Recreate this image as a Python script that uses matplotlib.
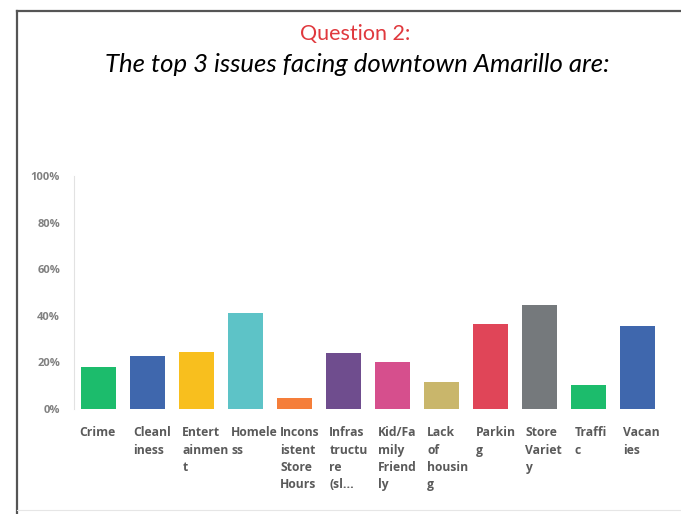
import matplotlib.pyplot as plt
from matplotlib.lines import Line2D
import matplotlib.transforms as mtransforms

# survey answers, share of respondents (%)
categories = ["Crime\n", "Cleanl\niness", "Entert\nainmen\nt", "Homele\nss",
              "Incons\nistent\nStore\nHours", "Infras\ntructu\nre\n(sl...",
              "Kid/Fa\nmily\nFriend\nly", "Lack\nof\nhousin\ng", "Parkin\ng",
              "Store\nVariet\ny", "Traffi\nc", "Vacan\nies"]
values = [18.2, 22.7, 24.6, 41.1, 4.8, 23.9, 20.2, 11.7, 36.6, 44.6, 10.2, 35.8]
colors = ["#1cbc6c", "#3f67ad", "#f8bf1e", "#5dc3c7", "#f57e3a", "#6f4d8e",
          "#d64f8d", "#c9b66b", "#e04558", "#75797c", "#1cbc6c", "#3f67ad"]
yticks = [0, 20, 40, 60, 80, 100]
ytick_labels = ["0%", "20%", "40%", "60%", "80%", "100%"]

fig = plt.figure(figsize=(6.81, 5.14), dpi=100)
fig.patch.set_facecolor("white")

# slide frame (top and left edges only)
fig.add_artist(Line2D([17/681, 1.0], [1 - 11/514, 1 - 11/514], color="#555555", lw=1.6))
fig.add_artist(Line2D([17/681, 17/681], [0, 1 - 11/514], color="#555555", lw=1.6))
fig.add_artist(Line2D([17/681, 1.0], [1 - 510/514, 1 - 510/514], color="#e6e6e6", lw=0.8))

fig.text(0.522, 1 - 34/514, "Question 2:", ha="center", va="center",
         color="#e0393e", fontsize=15.5, family="Lato")
fig.text(0.525, 1 - 64/514, "The top 3 issues facing downtown Amarillo are:",
         ha="center", va="center", color="black", fontsize=18.5,
         family="Lato", style="italic")

ax = fig.add_axes([74/681, 1 - 409/514, 588/681, 233/514])
x = range(len(values))
ax.bar(x, values, width=0.72, color=colors)

ax.set_xlim(-0.5, len(values) - 0.5)
ax.set_ylim(0, 100)
ax.set_yticks(yticks)
ax.set_yticklabels(ytick_labels, fontsize=8, fontweight="bold", color="#808080",
                   family="Open Sans")
ax.tick_params(axis="y", length=0, pad=10)
ax.set_xticks([])

for side in ["top", "right", "bottom"]:
    ax.spines[side].set_visible(False)
ax.spines["left"].set_color("#e2e2e2")
ax.spines["left"].set_linewidth(0.8)

# wrapped category names under the bars
trans = mtransforms.blended_transform_factory(ax.transData, ax.transAxes)
for i, lab in enumerate(categories):
    ax.text(i - 0.29 - (0.1 if i == 0 else 0), -0.075, lab.rstrip("\n"),
            transform=trans, ha="left", va="top", fontsize=8.7,
            fontweight="bold", color="#5a5a5a", family="Open Sans",
            linespacing=1.42)

fig.savefig("out.png", dpi=100, facecolor="white")
